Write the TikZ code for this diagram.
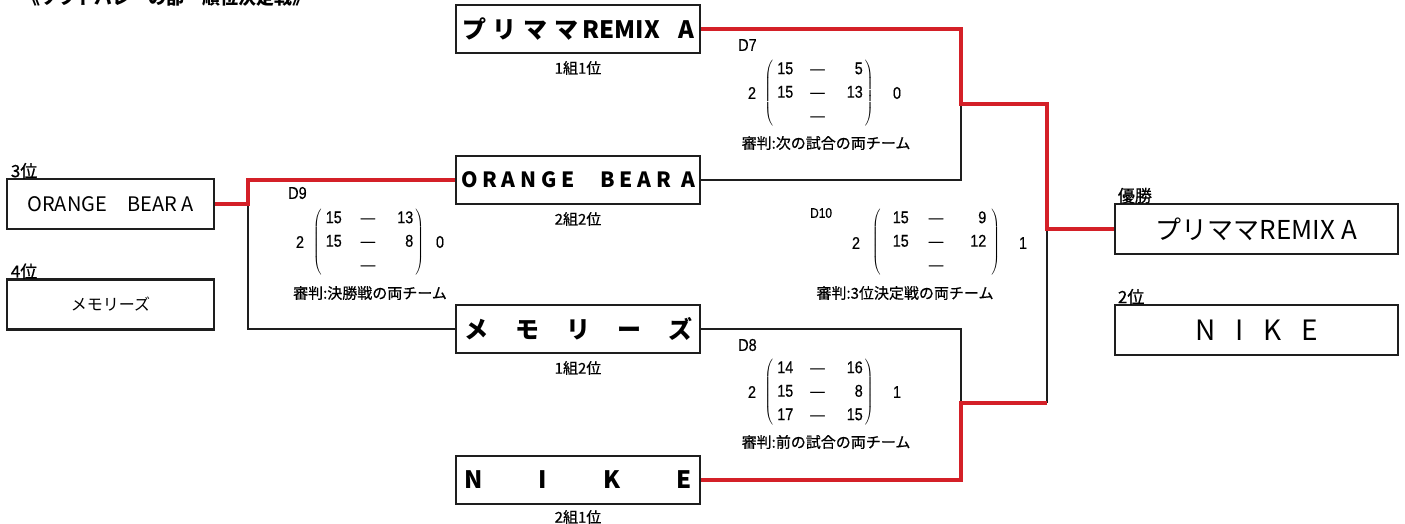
\documentclass[tikz,border=0pt]{standalone}
\usepackage{fontspec}
\setmainfont{Noto Sans CJK JP}
\newfontfamily\midfont[FakeBold=0.6]{Noto Sans CJK JP}
\newfontfamily\narrowfont[FakeStretch=0.85, FakeBold=0.4]{Liberation Sans}
\usetikzlibrary{positioning}
\definecolor{bracketRed}{RGB}{212, 32, 40}
\definecolor{bracketInk}{RGB}{30, 30, 30}
\newcommand{\scoretab}[5]{$\left(\begin{tabular}{@{\hspace{#1}}c@{\hspace{#2}}c@{\hspace{#3}}r@{\hspace{#4}}}#5\end{tabular}\right)$}

\begin{document}
\begin{tikzpicture}[
    x=1pt, y=-1pt,
    font=\fontsize{16pt}{19pt}\selectfont,
    team/.style={
        draw=bracketInk,
        rectangle,
        line width=1.8pt,
        inner sep=0pt,
        minimum width=244pt,
        minimum height=48pt,
        font=\fontsize{24pt}{28pt}\selectfont\bfseries
    },
    side/.style={
        draw=bracketInk,
        rectangle,
        line width=2.6pt,
        inner sep=0pt,
        minimum height=50pt
    },
    group/.style={inner sep=0pt, font=\midfont\fontsize{15pt}{18pt}\selectfont},
    rank/.style={inner sep=0pt, font=\midfont\fontsize{17pt}{20pt}\selectfont},
    tag/.style={anchor=west, inner sep=0pt, font=\narrowfont\fontsize{17pt}{20pt}\selectfont},
    score/.style={inner sep=0pt, font=\narrowfont\fontsize{17pt}{23.5pt}\selectfont},
    tally/.style={inner sep=0pt, font=\narrowfont\fontsize{17pt}{20pt}\selectfont},
    refnote/.style={inner sep=0pt, font=\midfont\fontsize{15pt}{18pt}\selectfont},
    lose/.style={draw=bracketInk, line width=1.3pt},
    win/.style={draw=bracketRed, line width=3.6pt}
]
\useasboundingbox (0,0) rectangle (1405,524);
\clip (0,0) rectangle (1405,524);

\node[anchor=base west, inner sep=0pt, font=\fontsize{18pt}{20pt}\selectfont\bfseries] (title) at (22,5) {《ソフトバレーの部・順位決定戦》};

% 1. Semifinal teams (centre column)
\node[team] (prima) at (578,29) {\makebox[232pt]{プ\hfill リ\hfill マ\hfill マ\hspace{4pt}REMIX\hspace{18pt}A}};
\node[team] (orange) at (578,180) {\makebox[234pt]{\fontsize{21pt}{24pt}\selectfont\addfontfeature{LetterSpace=23}ORANGE\hfill BEAR A}};
\node[team] (memo) at (578,329) {\makebox[228pt]{メ\hfill モ\hfill リ\hfill ー\hfill ズ}};
\node[team] (nike) at (578,480) {\makebox[228pt]{N\hfill I\hfill K\hfill E}};

\node[group, below=7pt of prima] (prima_grp) {1組1位};
\node[group, below=7pt of orange] (orange_grp) {2組2位};
\node[group, below=7pt of memo] (memo_grp) {1組2位};
\node[group, below=5pt of nike] (nike_grp) {2組1位};

% 2. Final standings (left and right columns)
\node[side, minimum width=207pt, font=\fontsize{20pt}{23pt}\selectfont] (third) at (110.5,204) {ORANGE\quad BEAR A};
\node[side, minimum width=207pt, font=\fontsize{16pt}{19pt}\selectfont] (fourth) at (110.5,304.5) {メモリーズ};
\node[side, minimum width=283pt, font=\fontsize{26pt}{30pt}\selectfont] (champ) at (1256.5,229) {プリママREMIX A};
\node[side, minimum width=283pt, font=\fontsize{28pt}{32pt}\selectfont] (runner) at (1256.5,330) {\makebox[123pt]{N\hfill I\hfill K\hfill E}\hspace{26pt}};

\node[rank, anchor=south west, xshift=5pt, yshift=-1pt] at (third.north west) {3位};
\node[rank, anchor=south west, xshift=5pt, yshift=-1pt] at (fourth.north west) {4位};
\node[rank, anchor=south west, xshift=4pt, yshift=-1pt] at (champ.north west) {優勝};
\node[rank, anchor=south west, xshift=4pt, yshift=-1pt] at (runner.north west) {2位};

% 3. Match scores
\node[tag] (d7tag) at (738,45) {D7};
\node[tally] (d7left) at (752,93) {2};
\node[score] (d7score) at (819,93) {\scoretab{4pt}{17pt}{22pt}{2pt}{15&—&5\\15&—&13\\&—&}};
\node[tally] (d7right) at (897,93) {0};
\node[refnote] (d7ref) at (826,143) {審判:次の試合の両チーム};

\node[tag] (d8tag) at (738,345) {D8};
\node[tally] (d8left) at (752,392) {2};
\node[score] (d8score) at (819,392) {\scoretab{4pt}{17pt}{22pt}{2pt}{14&—&16\\15&—&8\\17&—&15}};
\node[tally] (d8right) at (897,392) {1};
\node[refnote] (d8ref) at (826,442) {審判:前の試合の両チーム};

\node[tag] (d9tag) at (288,193) {D9};
\node[tally] (d9left) at (300,242) {2};
\node[score] (d9score) at (368.5,242) {\scoretab{4pt}{19pt}{22pt}{2pt}{15&—&13\\15&—&8\\&—&}};
\node[tally] (d9right) at (440,242) {0};
\node[refnote] (d9ref) at (370,293) {審判:決勝戦の両チーム};

\node[tag, font=\narrowfont\fontsize{14pt}{17pt}\selectfont] (d10tag) at (810,213) {D10};
\node[tally] (d10left) at (856,243) {2};
\node[score] (d10score) at (936,242) {\scoretab{12pt}{20pt}{27pt}{5pt}{15&—&9\\15&—&12\\&—&}};
\node[tally] (d10right) at (1023,243) {1};
\node[refnote] (d10ref) at (905,293) {審判:3位決定戦の両チーム};

% 4. Bracket lines
\coordinate (d7join) at (961,104);
\coordinate (d8join) at (961,403);
\coordinate (d8up) at (1047,403);
\coordinate (finaljoin) at (1047,229);
\coordinate (d9join) at (248,204);

\draw[lose] (orange.east) -| (d7join);
\draw[lose] (memo.east) -| (d8join);
\draw[lose] (d8up) -- (finaljoin);
\draw[lose] (memo.west) -| (d9join);

\draw[win] (prima.east) -| (d7join) -| (finaljoin) -- (champ.west);
\draw[win] (nike.east) -| (d8join) -- (d8up);
\draw[win] (orange.west) -| (d9join) -- (third.east);

\end{tikzpicture}
\end{document}
